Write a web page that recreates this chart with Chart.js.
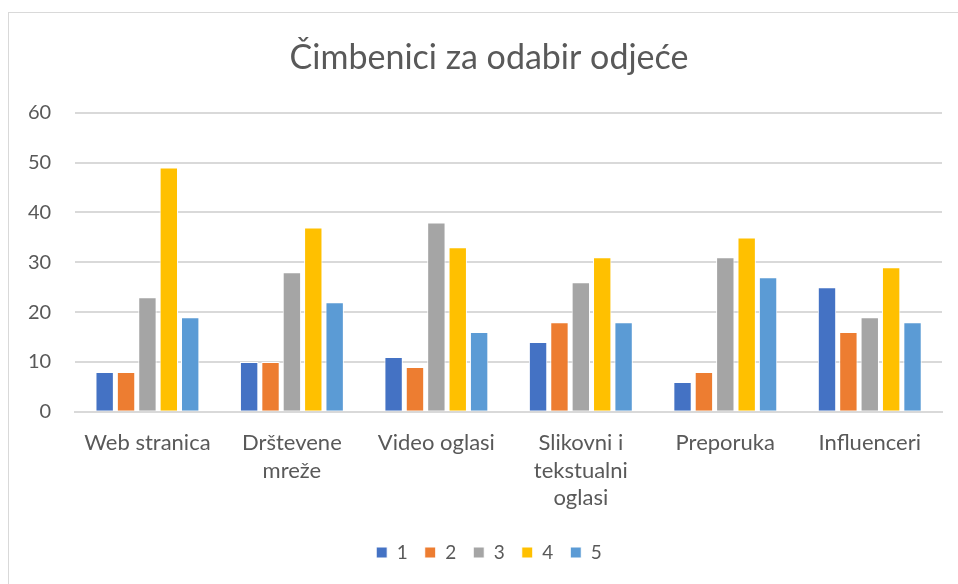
<!DOCTYPE html>
<html>
<head>
<meta charset="utf-8">
<script src="https://cdn.jsdelivr.net/npm/chart.js@4"></script>
<style>
  html, body { margin: 0; padding: 0; background: #fff; overflow: hidden; }
  .frame { position: absolute; left: 8px; top: 12px; width: 970px; height: 600px; border: 1.5px solid #d9d9d9; }
  .wrap { position: absolute; left: 0; top: 0; width: 958px; height: 584px; }
</style>
</head>
<body>
<div class="frame"></div>
<div class="wrap"><canvas id="chart"></canvas></div>
<script>
// ---------------------------------------------------------------------------
// Data
// ---------------------------------------------------------------------------

const CATEGORIES = [
  'Web stranica',
  ['Drštevene', 'mreže'],
  'Video oglasi',
  ['Slikovni i', 'tekstualni', 'oglasi'],
  'Preporuka',
  'Influenceri',
];
const SERIES_NAMES = ['1', '2', '3', '4', '5'];
const SERIES_1 = [8, 10, 11, 14, 6, 25];
const SERIES_2 = [8, 10, 9, 18, 8, 16];
const SERIES_3 = [23, 28, 38, 26, 31, 19];
const SERIES_4 = [49, 37, 33, 31, 35, 29];
const SERIES_5 = [19, 22, 16, 18, 27, 18];
const SERIES_COLORS = ['#4472c4', '#ed7d31', '#a5a5a5', '#ffc000', '#5b9bd5'];

const FONT = 'Lato, "Open Sans", sans-serif';
const TEXT = '#595959';

const allSeries = [SERIES_1, SERIES_2, SERIES_3, SERIES_4, SERIES_5];

// The original chart frame is wider than the screenshot, so the title and
// legend sit a little right of the canvas centre.
const centreShiftPlugin = {
  id: 'centreShift',
  afterLayout(chart) {
    const dx = 16;
    chart.titleBlock.left  += dx;
    chart.titleBlock.right += dx;
    chart.legend.left  += dx;
    chart.legend.right += dx;
  },
};

new Chart(document.getElementById('chart'), {
  type: 'bar',
  data: {
    labels: CATEGORIES,
    datasets: allSeries.map((d, i) => ({
      label: SERIES_NAMES[i],
      data: d,
      backgroundColor: SERIES_COLORS[i],
      borderColor: '#ffffff',
      borderWidth: 1,
      categoryPercentage: 0.74,
      barPercentage: 0.86,
    })),
  },
  plugins: [centreShiftPlugin],
  options: {
    responsive: true,
    maintainAspectRatio: false,
    animation: false,
    layout: { padding: { left: 4, right: 16, top: 26, bottom: 12 } },
    plugins: {
      title: {
        display: true,
        text: 'Čimbenici za odabir odjeće',
        color: TEXT,
        font: { family: FONT, size: 34, weight: 'normal' },
        padding: { top: 12, bottom: 34 },
      },
      legend: {
        position: 'bottom',
        labels: {
          color: TEXT,
          font: { family: FONT, size: 19 },
          boxWidth: 11,
          boxHeight: 11,
          padding: 17,
        },
      },
      tooltip: { enabled: false },
    },
    scales: {
      x: {
        grid: { display: false },
        border: { color: '#d9d9d9', width: 2 },
        ticks: {
          color: TEXT,
          font: { family: FONT, size: 22, lineHeight: 1.26 },
          padding: 9,
          maxRotation: 0,
          autoSkip: false,
        },
        afterFit(scale) { scale.height += 5; },
      },
      y: {
        min: 0,
        max: 60,
        ticks: { stepSize: 10, color: TEXT, font: { family: FONT, size: 20 }, padding: 24 },
        grid: { color: '#d9d9d9', lineWidth: 2, drawTicks: false },
        border: { display: false },
      },
    },
  },
});
</script>
</body>
</html>
